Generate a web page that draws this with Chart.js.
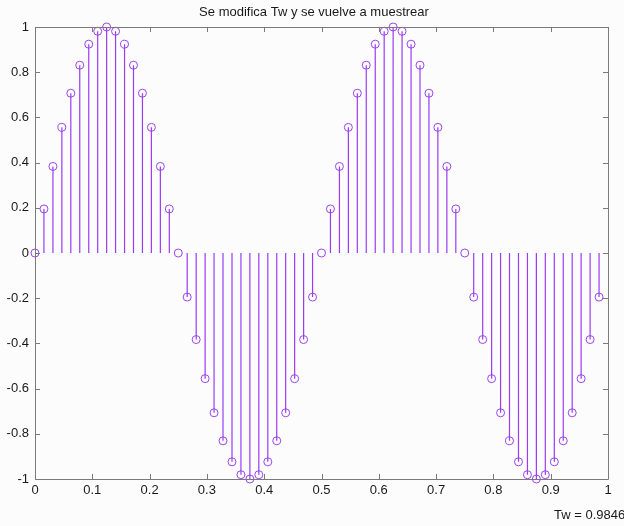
<!DOCTYPE html>
<html>
<head>
<meta charset="utf-8">
<script src="https://cdn.jsdelivr.net/npm/chart.js@4/dist/chart.umd.min.js"></script>
<style>
html,body{margin:0;padding:0;background:#fcfcfc;}
#wrap{position:relative;width:624px;height:526px;}
</style>
</head>
<body>
<div id="wrap"><canvas id="c" width="624" height="526"></canvas></div>
<script>
const titleText = "Se modifica Tw y se vuelve a muestrear";
const noteText = "Tw = 0.9846";
const xTicks = [0, 0.1, 0.2, 0.3, 0.4, 0.5, 0.6, 0.7, 0.8, 0.9, 1];
const yTicks = [-1, -0.8, -0.6, -0.4, -0.2, 0, 0.2, 0.4, 0.6, 0.8, 1];
const sampleTimes = [
  0, 0.0156, 0.0313, 0.0469, 0.0625, 0.0781, 0.0938, 0.1094,
  0.125, 0.1406, 0.1563, 0.1719, 0.1875, 0.2031, 0.2188, 0.2344,
  0.25, 0.2656, 0.2813, 0.2969, 0.3125, 0.3281, 0.3438, 0.3594,
  0.375, 0.3906, 0.4063, 0.4219, 0.4375, 0.4531, 0.4688, 0.4844,
  0.5, 0.5156, 0.5313, 0.5469, 0.5625, 0.5781, 0.5938, 0.6094,
  0.625, 0.6406, 0.6563, 0.6719, 0.6875, 0.7031, 0.7188, 0.7344,
  0.75, 0.7656, 0.7813, 0.7969, 0.8125, 0.8281, 0.8438, 0.8594,
  0.875, 0.8906, 0.9063, 0.9219, 0.9375, 0.9531, 0.9688, 0.9844
];
const sampleValues = [
  0, 0.195, 0.383, 0.556, 0.707, 0.831, 0.924, 0.981,
  1, 0.981, 0.924, 0.831, 0.707, 0.556, 0.383, 0.195,
  0, -0.195, -0.383, -0.556, -0.707, -0.831, -0.924, -0.981,
  -1, -0.981, -0.924, -0.831, -0.707, -0.556, -0.383, -0.195,
  0, 0.195, 0.383, 0.556, 0.707, 0.831, 0.924, 0.981,
  1, 0.981, 0.924, 0.831, 0.707, 0.556, 0.383, 0.195,
  0, -0.195, -0.383, -0.556, -0.707, -0.831, -0.924, -0.981,
  -1, -0.981, -0.924, -0.831, -0.707, -0.556, -0.383, -0.195
];

const stemColor = '#9b3cf5';
const markerColor = '#9b45f0';
const FONT = '"Liberation Sans", Arial, sans-serif';

// stems: (t,0)->(t,v), separated by gaps
const stemData = [];
sampleTimes.forEach((t, i) => {
  stemData.push({x: t, y: 0});
  stemData.push({x: t, y: sampleValues[i]});
  stemData.push({x: t, y: null});
});
const markerData = sampleTimes.map((t, i) => ({x: t, y: sampleValues[i]}));

const framePlugin = {
  id: 'frame',
  beforeDraw(chart) {
    const ctx = chart.ctx;
    ctx.save();
    ctx.fillStyle = '#fcfcfc';
    ctx.fillRect(0, 0, chart.width, chart.height);
    ctx.restore();
  },
  afterDraw(chart) {
    const {ctx, chartArea: a, scales} = chart;
    ctx.save();
    ctx.strokeStyle = '#7a7a7a';
    ctx.lineWidth = 1;
    ctx.beginPath();
    ctx.rect(Math.round(a.left) + 0.5, Math.round(a.top) + 0.5,
             Math.round(a.right - a.left), Math.round(a.bottom - a.top));
    ctx.stroke();
    const tl = 5;
    ctx.beginPath();
    xTicks.forEach(v => {
      const px = Math.round(scales.x.getPixelForValue(v)) + 0.5;
      ctx.moveTo(px, a.bottom); ctx.lineTo(px, a.bottom - tl);
      ctx.moveTo(px, a.top); ctx.lineTo(px, a.top + tl);
    });
    yTicks.forEach(v => {
      const py = Math.round(scales.y.getPixelForValue(v)) + 0.5;
      ctx.moveTo(a.left, py); ctx.lineTo(a.left + tl, py);
      ctx.moveTo(a.right, py); ctx.lineTo(a.right - tl, py);
    });
    ctx.stroke();
    ctx.fillStyle = '#1a1a1a';
    ctx.font = '13px ' + FONT;
    ctx.textAlign = 'center';
    ctx.textBaseline = 'middle';
    ctx.fillText(titleText, 314, 12);
    ctx.textAlign = 'left';
    ctx.fillText(noteText, 554, 515);
    ctx.restore();
  }
};

new Chart(document.getElementById('c'), {
  type: 'scatter',
  data: {
    datasets: [
      {
        type: 'line',
        data: stemData,
        borderColor: stemColor,
        borderWidth: 1.2,
        pointRadius: 0,
        spanGaps: false,
        fill: false,
        tension: 0,
        clip: false
      },
      {
        type: 'scatter',
        data: markerData,
        pointStyle: 'circle',
        pointRadius: 4,
        pointBorderWidth: 1,
        pointBackgroundColor: 'rgba(0,0,0,0)',
        pointBorderColor: markerColor,
        showLine: false,
        clip: false
      }
    ]
  },
  options: {
    responsive: false,
    animation: false,
    layout: {padding: {top: 27, right: 16, left: 0, bottom: 0}},
    plugins: {legend: {display: false}, tooltip: {enabled: false}, title: {display: false}},
    scales: {
      x: {
        type: 'linear', min: 0, max: 1,
        afterFit: s => { s.height = 47; },
        afterBuildTicks: s => { s.ticks = xTicks.map(v => ({value: v})); },
        grid: {display: false, drawTicks: false}, border: {display: false},
        ticks: {padding: 4, color: '#1a1a1a', font: {family: FONT, size: 13},
                maxRotation: 0, autoSkip: false,
                callback: v => String(v)}
      },
      y: {
        type: 'linear', min: -1, max: 1,
        afterFit: s => { s.width = 35; },
        afterBuildTicks: s => { s.ticks = yTicks.map(v => ({value: v})); },
        grid: {display: false, drawTicks: false}, border: {display: false},
        ticks: {padding: 6, color: '#1a1a1a', font: {family: FONT, size: 13},
                autoSkip: false,
                callback: v => String(Math.round(v * 10) / 10)}
      }
    }
  },
  plugins: [framePlugin]
});
</script>
</body>
</html>
